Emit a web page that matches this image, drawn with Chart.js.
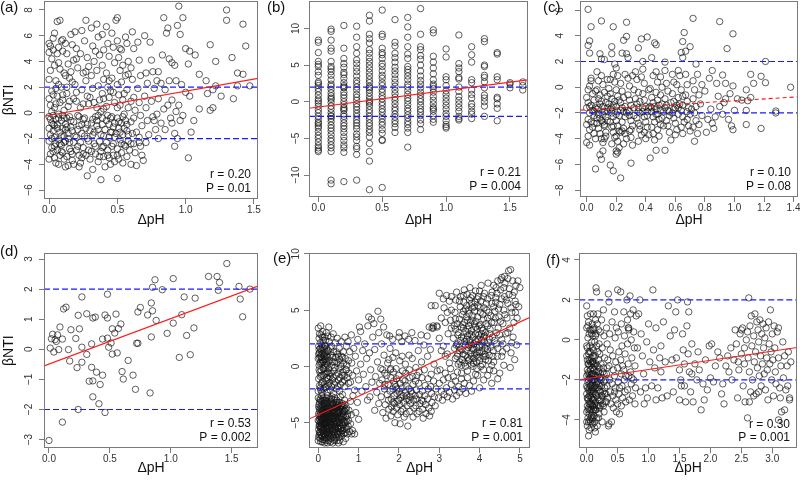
<!DOCTYPE html>
<html><head><meta charset="utf-8">
<script src="https://cdn.jsdelivr.net/npm/chart.js@4"></script>
<style>
html,body{margin:0;padding:0;background:#fff;}
#wrap{position:relative;width:800px;height:482px;overflow:hidden;}
canvas{position:absolute;}
</style></head><body><div id="wrap">
<canvas id="ca" width="267" height="240" style="left:0;top:0"></canvas>
<canvas id="cb" width="266" height="240" style="left:267px;top:0"></canvas>
<canvas id="cc" width="267" height="240" style="left:533px;top:0"></canvas>
<canvas id="cd" width="267" height="242" style="left:0;top:240px"></canvas>
<canvas id="ce" width="266" height="242" style="left:267px;top:240px"></canvas>
<canvas id="cf" width="267" height="242" style="left:533px;top:240px"></canvas>
</div>
<script>
// ---------------- DATA ----------------
const panelLabels = ['(a)','(b)','(c)','(d)','(e)','(f)'];
const rStats = ['0.20','0.21','0.10','0.53','0.81','0.30'];
const pStats = ['0.01','0.004','0.08','0.002','0.001','0.001'];
const fitSlope = [1.88, 2.26, 0.70, 1.51, 1.65, 0.46];
const fitIntercept = [-0.19, -0.73, -1.75, -0.49, -4.30, -1.94];
const nullBounds = [-2, 2];
const xTitle = 'ΔpH';
const yTitle = 'βNTI';

const ticksAX=[0,0.5,1,1.5], ticksAY=[-6,-4,-2,0,2,4,6,8];
const ticksBX=[0,0.5,1,1.5], ticksBY=[-10,-5,0,5,10];
const ticksCX=[0,0.2,0.4,0.6,0.8,1,1.2,1.4], ticksCY=[-8,-6,-4,-2,0,2,4,6];
const ticksDX=[0,0.5,1,1.5], ticksDY=[-3,-2,-1,0,1,2,3];
const ticksEX=[0,1,2,3,4,5], ticksEY=[-5,0,5,10];
const ticksFX=[0,0.5,1,1.5,2,2.5,3], ticksFY=[-4,-2,0,2,4];

const ptsA = [
[.0,5.4],[.01,5.2],[.0,4.7],[.02,4.2],[.01,3.3],[.0,2.6],[.02,1.7],[.0,1.1],[.01,.6],[.0,-.3],[.02,-.8],[.0,-1.2],[.01,-1.7],[.0,-2.2],[.02,-2.7],[.01,-3.2],[.0,-3.6],[.03,5.8],[.04,6.2],[.03,4.9],[.04,3.7],[.05,2.5],[.03,1.4],[.04,.4],[.05,-.5],[.03,-1.4],[.04,-1.9],[.05,-2.4],[.03,-3.0],[.04,-3.5],[.05,-3.9],[.02,.1],[.04,-1.0],[.05,1.9],[.03,-.2],
[.06,7.1],[.07,5.1],[.06,4.6],[.08,3.4],[.07,2.2],[.06,1.3],[.08,.8],[.07,-.1],[.06,-.9],[.08,-1.5],[.07,-2.1],[.06,-2.9],[.08,-3.3],[.07,-4.0],[.09,5.6],[.1,4.8],[.11,3.1],[.09,2.0],[.1,1.0],[.11,.2],[.09,-.6],[.1,-1.2],[.11,-1.8],[.09,-2.5],[.1,-3.1],[.11,-3.6],[.12,-4.2],[.12,5.4],[.12,2.9],[.12,-.9],[.12,-2.2],[.08,7.2],[.1,5.7],[.11,-.4],[.09,-1.8],
[.13,4.6],[.14,3.8],[.15,2.7],[.13,1.5],[.14,.5],[.15,-.3],[.13,-1.1],[.14,-2.0],[.15,-2.8],[.13,-3.4],[.14,-4.1],[.16,6.1],[.17,5.3],[.18,4.1],[.16,3.2],[.17,2.4],[.18,1.1],[.16,-.6],[.17,-1.4],[.18,-2.3],[.16,-3.0],[.17,-3.7],[.18,-4.0],[.19,6.3],[.2,5.0],[.21,3.5],[.19,2.2],[.2,.9],[.21,-.2],[.22,-1.0],[.2,-1.9],[.21,-2.6],[.22,-3.3],[.23,-3.9],[.24,6.4],[.23,4.6],[.25,3.1],[.24,1.8],[.23,.4],[.25,-.5],[.24,-1.6],[.25,-2.7],[.24,-3.5],[.22,-4.2],
[.27,7.2],[.26,5.6],[.28,4.3],[.29,3.6],[.27,2.5],[.28,1.3],[.29,.7],[.26,-.4],[.27,-1.2],[.28,-2.0],[.29,-2.9],[.3,-3.6],[.28,-4.9],[.31,6.6],[.32,5.2],[.33,4.0],[.31,2.9],[.32,1.9],[.33,.8],[.34,-.3],[.31,-.8],[.32,-1.7],[.33,-2.4],[.34,-3.2],[.32,-4.4],[.35,6.9],[.36,5.9],[.37,4.5],[.35,3.3],[.36,2.1],[.37,1.0],[.38,.1],[.35,-.6],[.36,-1.3],[.37,-2.2],[.38,-3.0],[.36,-3.8],[.38,-5.2],[.39,6.1],[.4,4.9],[.39,3.7],[.4,2.6],[.39,1.5],[.4,.3],[.39,-.4],[.4,-1.8],[.39,-2.7],[.4,-3.4],[.41,-4.2],
[.42,6.7],[.43,5.4],[.44,4.4],[.42,3.1],[.43,2.0],[.44,1.2],[.42,.5],[.43,-.2],[.44,-.9],[.45,-1.5],[.42,-2.3],[.43,-2.9],[.44,-3.5],[.45,-4.0],[.46,6.2],[.47,5.1],[.48,3.9],[.46,2.7],[.47,1.6],[.48,.8],[.46,-.3],[.47,-1.1],[.48,-1.9],[.46,-2.6],[.47,-3.3],[.48,-3.8],[.5,7.4],[.49,7.2],[.5,5.6],[.51,4.3],[.52,3.3],[.5,2.2],[.51,1.4],[.52,.6],[.5,-.4],[.51,-1.2],[.52,-2.1],[.5,-2.8],[.51,-3.6],[.5,-5.1],[.53,4.9],[.54,3.7],[.53,2.4],[.54,1.0],[.55,-.1],[.53,-.8],[.54,-1.7],[.55,-2.5],[.53,-3.1],[.54,-3.9],
[.56,5.9],[.57,5.4],[.58,4.0],[.56,2.9],[.57,1.8],[.58,.4],[.56,-.6],[.57,-1.4],[.58,-2.2],[.59,-2.9],[.57,-3.4],[.6,-4.0],[.61,6.3],[.62,5.0],[.6,3.5],[.61,2.6],[.62,1.2],[.63,.2],[.6,-.7],[.61,-1.6],[.62,-2.4],[.63,-3.1],[.64,-4.1],[.65,5.5],[.66,4.1],[.67,2.9],[.65,1.9],[.66,.8],[.67,-.2],[.68,-1.0],[.66,-1.9],[.67,-2.6],[.68,-3.3],[.69,-3.7],[.7,6.0],[.71,3.1],[.72,2.3],[.7,1.3],[.71,.4],[.72,-.6],[.73,-1.7],[.71,-2.3],[.74,5.5],[.75,4.1],[.76,3.2],[.77,1.9],[.75,.9],[.76,-.3],[.77,-.6],[.78,-1.3],[.8,-2.0],[.79,2.5],[.8,1.1],[.79,-.1],
[.95,8.3],[1.3,8.0],[1.3,7.2],[1.42,6.9],[.84,7.4],[.98,7.4],[.94,6.8],[.87,6.6],[.86,6.2],[.96,6.1],[1.44,5.2],[1.18,5.3],[1.0,5.0],[1.03,4.8],[1.07,4.5],[1.34,4.3],[1.22,4.0],[.83,4.5],[.88,4.2],[.9,3.9],[1.02,3.8],[.92,3.7],[1.38,3.1],[1.42,3.0],[1.1,3.0],[.8,3.2],[1.38,2.1],[1.47,2.1],[1.22,2.1],[1.15,2.5],[1.2,1.8],[1.26,1.3],[1.35,1.1],[1.18,.2],[1.2,.4],[1.16,1.5],[1.0,1.6],[1.03,1.3],[.93,2.5],[.88,2.5],[.97,2.2],[.85,1.8],[.82,2.3],[.9,1.0],[.95,.6],[.93,.1],[.84,.3],[.89,-.4],[.87,.6],[1.06,-.6],[.96,-.6],[1.04,-1.5],[.82,-.8],[.85,-1.3],[.92,-1.6],[.94,-2.0],[.92,-2.6],[1.02,-3.5],[.98,-.2],[.9,-.8],[1.1,.3],
[.01,-.5],[.03,-.9],[.02,-2.0],[.04,-2.6],[.06,-1.2],[.07,-.4],[.08,-2.4],[.09,-3.0],[.1,-.2],[.11,-2.3],[.12,-1.3],[.13,-.4],[.14,-1.6],[.15,-2.3],[.16,-1.1],[.17,-3.2],[.18,-.7],[.19,-1.8],[.2,-2.9],[.21,-1.3],[.22,-.3],[.23,-2.3],[.24,-.9],[.25,-3.2],[.26,-1.8],[.27,-3.3],[.28,-.9],[.29,-2.2],[.3,-1.4],[.31,-3.0],[.32,-.5],[.33,-1.5],[.34,-2.6],[.35,-1.0],[.36,-.2],[.37,-3.4],[.38,-1.7],[.39,-.9],[.4,-2.6],[.41,-1.3],[.42,-.6],[.43,-3.3],[.44,-1.9],[.45,-.4],[.46,-1.5],[.47,-2.4],[.48,-.8],[.49,-1.6],[.5,-3.3],[.51,-.7],[.52,-1.5],[.53,-2.4],[.54,-.3],[.55,-1.2],[.56,-2.6],[.57,-.9],[.58,-1.7],[.6,-2.4],[.62,-.4],[.64,-1.5],[.66,-2.3],[.05,.7],[.1,1.4],[.15,.9],[.2,1.6],[.25,.7],[.3,1.2],[.35,.4],[.4,1.1],[.45,1.7],[.5,.4],[.55,1.5],[.6,.9],[.13,2.0],[.27,3.2],[.34,4.8],[.44,2.5],[.52,5.0],[.58,3.0],[.07,3.9],[.2,4.2]
];

const colsBX = [0,0.1,0.2,0.3,0.4,0.5,0.6,0.7,0.8,0.9,1.0,1.1,1.2,1.3,1.4,1.5,1.6];
const colsBY = [
[8.4,8.1,6.7,5.5,5.1,4.8,4.1,3.6,2.7,2.5,2.2,1.4,.9,.4,-.2,-.6,-1.1,-1.5,-2.0,-2.4,-2.8,-3.3,-3.6,-4.1,-4.6,-5.0,-5.5,-6.0,-6.3,-6.6,-6.8,.1,-3.0,1.8],
[9.9,9.6,8.4,7.3,6.9,5.5,4.8,4.5,4.1,3.6,3.0,2.4,2.1,1.7,1.2,.8,.3,-.1,-.6,-1.0,-1.5,-1.9,-2.3,-2.7,-3.2,-3.6,-4.0,-4.5,-5.0,-5.4,-5.9,-6.3,-6.8,-10.7,-11.2,.5,-2.0],
[10.4,7.3,5.9,5.2,4.7,4.0,3.7,3.2,2.6,2.2,1.9,1.3,.9,.5,.0,-.4,-.8,-1.2,-1.7,-2.0,-2.4,-2.9,-3.3,-3.7,-4.2,-4.8,-5.3,-5.9,-6.3,-6.9,-10.9,-1.0,2.0],
[10.3,8.8,7.5,6.6,5.7,5.2,4.6,4.1,3.5,2.9,2.5,2.0,1.6,1.0,.6,.2,-.3,-.7,-1.1,-1.6,-2.0,-2.5,-2.9,-3.3,-3.7,-4.4,-4.8,-5.3,-6.1,-6.4,-7.2,-10.7],
[11.8,11.0,9.2,8.6,8.0,7.1,6.6,6.0,5.5,5.0,4.5,4.0,3.5,3.0,2.6,2.1,1.6,1.2,.7,.3,-.2,-.6,-1.1,-1.5,-2.0,-2.4,-2.9,-3.3,-3.8,-4.2,-4.8,-5.7,-6.8,-8.1,-12.0,.0,1.9],
[12.5,9.2,8.9,7.3,6.7,6.4,5.9,5.2,4.8,4.2,3.6,3.2,2.6,2.2,1.7,1.3,.8,.4,-.1,-.5,-1.0,-1.4,-1.9,-2.3,-2.8,-3.2,-3.8,-4.3,-5.2,-5.3,-11.7],
[11.2,8.1,7.6,6.6,6.0,5.4,4.7,4.2,3.7,3.1,2.6,2.1,1.6,1.1,.6,.2,-.3,-.8,-1.2,-1.7,-2.1,-2.6,-3.0,-3.5,-4.2],
[11.5,10.2,8.8,7.5,6.5,5.9,4.8,4.4,4.0,3.5,3.0,2.4,2.0,1.5,1.0,.5,.1,-.4,-.9,-1.3,-1.8,-2.2,-2.7,-3.1,-3.6,-4.2,-6.2],
[12.7,9.2,7.5,7.1,6.3,5.8,5.0,4.2,3.5,2.9,2.4,1.9,1.3,.9,.4,.0,-.5,-1.0,-1.4,-1.9,-2.5,-3.0,-3.8],
[9.8,9.4,6.2,5.4,4.6,3.8,3.0,2.4,1.8,1.3,.7,.2,-.3,-.8,-1.3,-1.9,-2.4,-2.8,2.1,-1.0],
[7.2,6.1,3.4,3.0,2.2,1.5,1.0,.5,.0,-.5,-1.0,-1.6,-2.0,-2.6,-3.1,-3.4,-3.6],
[9.1,5.2,4.6,4.1,3.3,3.1,2.0,1.4,.7,.2,-.3,-.8,-1.3,-2.0,-2.3,-2.5],
[7.5,6.4,5.4,3.0,2.6,1.6,1.0,.5,-.3,-.7,-1.3,-1.7,-2.3],
[8.6,8.2,5.0,4.8,3.6,3.3,2.7,1.9,.9,.5,.0,-.6,-2.0],
[6.7,6.5,3.4,3.0,.6,.4,-.3,-.9,-2.6],
[2.6,2.4,1.9],
[2.7,2.2,1.6]
];

const ptsC = [
[.01,6.05],[.1,5.15],[.03,4.7],[.18,4.7],[.27,5.05],[.72,5.35],[.9,5.1],[.99,4.15],[.66,4.25],[.27,3.95],[.41,3.9],[.25,3.65],[.37,3.75],[.02,3.6],[.01,3.25],[.17,3.15],[.46,3.45],[.47,3.3],[.65,3.55],[.95,3.0],[.7,3.15],[.35,3.05],[.02,2.65],[.09,2.6],[.17,2.6],[.24,2.65],[.27,2.6],[.64,2.7],[.67,2.8],[.1,2.2],[.12,2.15],[.28,2.3],[.44,2.3],[.65,2.3],[.38,2.0],[.53,1.95],[1.21,2.0],[.74,1.8],
[.23,-7.05],[.06,-6.35],[.18,-6.5],[.16,-6.05],[.3,-5.9],[.43,-5.5],[.09,-5.25],[.2,-5.2],[.11,-4.95],[.2,-4.95],[.21,-5.05],[.47,-4.9],[.53,-4.9],[.1,-5.6],
[1.38,0.0],[1.21,.35],[1.11,1.0],[1.13,.3],[1.18,.85],[1.08,-.2],[1.09,-1.05],[1.11,-.8],[1.05,-1.0],[1.0,-1.8],[1.08,-1.8],[1.28,-1.85],[1.28,-2.0],[1.18,-3.2],[1.08,-2.9],[.98,-3.0],[.99,-3.3],[.96,-2.5],[.92,-2.1],[.92,.95],[.88,.3],[.85,1.3],[.94,.3],[.99,.1],[.97,-.5],[.94,-.9],[.9,-1.5],[.84,-1.7],[.87,-2.3],[.82,-2.5],[.86,-3.2],[.89,-.7],[.83,.7],[.8,-.3],[.81,-3.5],[.85,-2.8],[.93,-1.2],[1.02,-.9],
[.0,-.8],[.01,-1.2],[.0,-1.6],[.02,-2.0],[.01,-2.5],[.0,-2.9],[.02,-3.3],[.01,-3.8],[.0,-4.3],[.02,-4.5],[.01,-.2],[.03,.5],[.04,-.5],[.05,-1.0],[.03,-1.4],[.04,-1.8],[.05,-2.2],[.03,-2.7],[.04,-3.1],[.05,-3.6],[.06,-4.0],[.03,.7],[.06,-.3],[.06,-1.6],[.05,-2.8],[.02,.1],
[.07,1.2],[.08,.5],[.07,-.2],[.08,-.9],[.09,-1.3],[.07,-1.7],[.08,-2.1],[.09,-2.4],[.07,-2.8],[.08,-3.2],[.09,-3.6],[.1,-4.0],[.11,-4.3],[.1,.9],[.11,.2],[.12,-.4],[.1,-1.1],[.11,-1.5],[.12,-1.9],[.13,-2.3],[.11,-2.7],[.12,-3.0],[.13,-3.5],[.12,-4.0],[.14,.6],[.14,-.7],[.13,-1.2],[.14,-1.6],[.14,-2.6],[.13,-3.8],[.09,-.6],[.1,-2.6],
[.15,-.1],[.16,-.5],[.17,-.9],[.15,-1.3],[.16,-1.7],[.17,-2.0],[.18,-2.3],[.16,-2.7],[.17,-3.1],[.18,-3.5],[.19,-3.9],[.17,-4.4],[.19,1.8],[.2,1.5],[.18,1.0],[.19,.4],[.2,-.2],[.21,-.7],[.19,-1.1],[.2,-1.5],[.21,-1.9],[.22,-2.2],[.2,-2.6],[.21,-3.0],[.22,-3.4],[.2,-3.8],[.21,-4.2],[.22,-4.7],[.16,.6],[.18,-1.4],[.21,.9],[.22,-1.0],
[.23,.3],[.24,-.3],[.25,-.8],[.23,-1.2],[.24,-1.6],[.25,-1.9],[.26,-2.3],[.24,-2.7],[.25,-3.2],[.26,-3.6],[.27,-4.0],[.25,-4.4],[.28,.7],[.29,.1],[.28,-.6],[.29,-1.0],[.3,-1.4],[.28,-1.8],[.29,-2.2],[.3,-2.6],[.31,-3.0],[.29,-3.4],[.3,-3.9],[.31,-4.5],[.32,-.2],[.32,-1.6],[.31,.9],[.27,-2.0],[.23,-3.5],[.26,1.0],
[.33,1.2],[.34,.6],[.35,-.4],[.33,-.9],[.34,-1.3],[.35,-1.6],[.36,-2.0],[.34,-2.4],[.35,-2.8],[.36,-3.3],[.37,-3.7],[.35,-4.2],[.38,1.4],[.39,.3],[.38,-.5],[.39,-1.0],[.4,-1.5],[.38,-1.9],[.39,-2.3],[.4,-2.7],[.41,-3.1],[.39,-3.5],[.4,-4.0],[.42,-.2],[.42,-1.6],[.41,-2.2],[.42,-3.7],[.36,-1.1],[.37,.8],
[.43,-.1],[.44,-.8],[.45,-1.2],[.43,-1.5],[.44,-1.9],[.45,-2.3],[.46,-2.7],[.44,-3.1],[.45,-3.6],[.46,-4.1],[.47,1.2],[.48,.4],[.47,-.4],[.48,-1.0],[.49,-1.4],[.47,-1.7],[.48,-2.1],[.49,-2.5],[.5,-2.9],[.48,-3.3],[.49,-3.8],[.5,.8],[.51,.0],[.5,-.6],[.51,-1.3],[.52,-1.9],[.51,-2.4],[.52,-3.0],[.45,.9],[.46,-1.5],
[.53,1.3],[.54,.3],[.55,-.3],[.53,-.9],[.54,-1.4],[.55,-1.8],[.56,-2.2],[.54,-2.6],[.55,-3.0],[.56,-3.5],[.57,-4.1],[.58,1.0],[.59,.4],[.58,-.5],[.59,-1.1],[.6,-1.6],[.58,-2.0],[.59,-2.4],[.6,-2.8],[.61,-3.3],[.62,1.3],[.61,.2],[.62,-.8],[.61,-1.4],[.62,-2.1],[.6,-3.7],[.57,-1.2],
[.63,.9],[.64,-.2],[.65,-.7],[.63,-1.3],[.64,-1.8],[.65,-2.3],[.66,-2.7],[.64,-3.1],[.65,-3.6],[.67,1.0],[.68,.2],[.67,-.6],[.68,-1.1],[.69,-1.6],[.7,-2.1],[.68,-2.5],[.69,-3.0],[.7,-3.4],[.72,.5],[.73,-.2],[.72,-.9],[.74,-1.5],[.73,-2.0],[.74,-2.6],[.72,-3.1],[.73,-4.2],[.75,-3.6],[.76,-.6],[.77,-1.3],[.78,-2.2],[.76,-2.9],[.78,.2],[.75,1.0],
[.02,-1.5],[.05,-1.9],[.08,-1.6],[.11,-2.1],[.14,-1.9],[.17,-1.6],[.2,-2.1],[.23,-1.8],[.26,-1.5],[.29,-1.9],[.32,-2.2],[.35,-1.9],[.38,-1.6],[.41,-1.9],[.44,-1.6],[.47,-2.1],[.5,-1.8],[.53,-1.6],[.56,-1.9],[.59,-1.7],[.62,-1.6],[.65,-1.4],[.68,-1.9],[.71,-1.7],[.18,-3.0],[.24,-3.4],[.3,-3.3],[.12,-2.9],[.07,-2.4],[.36,-3.0]
];

const ptsD = [
[0.0,-3.03],[.01,.04],[.02,.35],[.03,.5],[.04,-.09],[.05,.32],[.06,.26],[.07,.48],[.08,-.01],[.09,.74],[.11,.34],[.11,-2.42],[.12,1.34],[.14,1.4],[.16,-.01],[.17,-.39],[.18,.65],[.22,.36],[.23,-.61],[.24,-2.0],[.24,1.13],[.25,.68],[.27,1.74],[.27,.07],[.27,-.43],[.31,-.17],[.31,1.18],[.33,-1.06],[.35,.18],[.35,-.6],[.36,1.04],[.36,-1.05],[.36,-1.58],[.38,1.07],[.39,-.76],[.41,-1.81],[.42,-1.17],[.44,.34],[.44,-.86],[.46,-2.1],[.46,1.14],[.48,1.04],[.48,1.83],[.48,.37],[.49,.07],[.51,.21],[.52,-.16],[.52,.68],[.54,.54],[.55,1.17],[.56,-.12],[.57,.69],[.59,.84],[.6,-.74],[.61,-.99],[.65,-.37],[.69,-.86],[.71,-1.33],[.72,.2],[.73,.2],[.73,1.24],[.75,1.39],[.81,1.14],[.83,-1.45],[.84,1.54],[.85,2.06],[.85,1.28],[.84,.41],[.87,2.31],[.88,.96],[.93,1.98],[.97,.53],[1.02,.87],[1.02,2.35],[1.07,-.27],[1.09,1.15],[1.11,1.74],[1.13,.46],[1.16,-.18],[1.19,.71],[1.2,1.7],[1.31,2.42],[1.38,2.42],[1.39,1.96],[1.4,2.22],[1.46,2.85],[1.56,2.09],[1.57,1.67],[1.59,1.08],[1.65,2.0]
];

const ptsE = [
[.0,-6.6],[.02,-6.1],[.01,-5.6],[.03,-5.2],[.0,-4.8],[.02,-4.4],[.04,-4.0],[.01,-3.6],[.03,-3.2],[.0,-2.8],[.05,-6.4],[.06,-5.9],[.07,-5.4],[.05,-5.0],[.08,-4.6],[.06,-4.2],[.07,-3.8],[.09,-3.4],[.05,-3.0],[.08,-2.6],[.1,-6.7],[.09,-6.2],[.1,-5.7],[.08,-5.1],[.1,-4.7],[.09,-4.3],[.1,-3.9],[.04,-5.8],[.02,-4.9],[.06,-4.5],
[.12,-6.5],[.13,-6.0],[.11,-5.5],[.14,-5.2],[.12,-4.8],[.15,-4.4],[.13,-4.0],[.11,-3.6],[.14,-3.2],[.12,-2.8],[.16,-6.8],[.17,-6.3],[.15,-5.8],[.18,-5.4],[.16,-5.0],[.19,-4.6],[.17,-4.2],[.18,-3.8],[.16,-3.4],[.19,-3.0],[.2,-6.4],[.21,-5.9],[.22,-5.5],[.2,-5.1],[.23,-4.7],[.21,-4.3],[.24,-3.9],[.22,-3.5],[.2,-3.1],[.23,-2.6],[.25,-6.1],[.24,-5.6],[.25,-4.9],[.24,-4.5],[.25,-4.1],[.18,-4.9],[.14,-4.6],[.22,-4.1],
[.26,-6.6],[.27,-6.2],[.28,-5.7],[.26,-5.3],[.29,-4.9],[.27,-4.5],[.3,-4.1],[.28,-3.7],[.26,-3.3],[.29,-2.9],[.31,-6.4],[.32,-6.0],[.33,-5.5],[.31,-5.1],[.34,-4.7],[.32,-4.3],[.35,-3.9],[.33,-3.5],[.31,-3.1],[.34,-2.7],[.36,-6.8],[.37,-6.3],[.38,-5.8],[.36,-5.4],[.39,-5.0],[.37,-4.6],[.4,-4.2],[.38,-3.8],[.36,-3.4],[.39,-3.0],[.41,-6.5],[.42,-6.1],[.43,-5.6],[.41,-5.2],[.44,-4.8],[.42,-4.4],[.45,-4.0],[.43,-3.6],[.41,-2.8],[.44,-3.2],[.3,-5.0],[.35,-4.4],
[.46,-6.6],[.47,-6.0],[.48,-5.5],[.46,-5.1],[.49,-4.7],[.47,-4.3],[.5,-3.9],[.48,-3.5],[.46,-3.0],[.51,-6.3],[.52,-5.8],[.53,-5.3],[.51,-4.9],[.54,-4.5],[.52,-4.1],[.55,-3.6],[.53,-3.2],[.56,-6.0],[.57,-5.5],[.58,-5.0],[.56,-4.6],[.59,-4.2],[.57,-3.8],[.6,-3.3],[.61,-5.7],[.62,-5.2],[.63,-4.8],[.61,-4.4],[.64,-3.9],[.62,-3.5],[.66,-5.9],[.67,-5.0],[.68,-4.5],[.66,-4.0],[.7,-3.7],[.69,-5.4],[.72,-6.0],[.75,-4.8],[.78,-5.8],[.73,-4.2],[.55,-2.7],[.6,-2.5],[.65,-3.0],
[.01,-6.3],[.03,-5.9],[.02,-5.3],[.04,-4.7],[.01,-4.2],[.03,-3.8],[.02,-3.4],[.04,-2.9],[.06,-6.7],[.07,-6.1],[.06,-5.5],[.08,-5.3],[.07,-4.9],[.09,-4.0],[.06,-3.6],[.08,-3.1],[.11,-6.2],[.12,-5.7],[.11,-5.0],[.13,-4.5],[.12,-4.2],[.13,-3.3],[.11,-3.0],[.15,-6.5],[.16,-6.1],[.14,-5.6],[.17,-5.1],[.15,-4.7],[.16,-4.1],[.14,-3.8],[.17,-3.6],[.15,-3.0],[.19,-6.6],[.18,-6.0],[.2,-5.6],[.19,-5.2],[.21,-4.9],[.18,-4.4],[.2,-4.0],[.22,-3.7],[.19,-3.3],[.21,-2.8],[.23,-6.8],[.24,-6.3],[.22,-5.8],[.25,-5.3],[.23,-5.0],[.26,-4.6],[.24,-4.2],[.25,-3.7],[.23,-3.2],[.27,-6.0],[.28,-5.4],[.29,-5.1],[.27,-4.8],[.3,-4.4],[.28,-4.0],[.29,-3.5],[.31,-6.7],[.32,-5.7],[.33,-5.2],[.31,-4.5],[.34,-4.1],[.32,-3.7],[.35,-3.3],[.33,-2.9],[.36,-6.1],[.37,-5.6],[.38,-5.1],[.36,-4.7],[.39,-4.4],[.37,-4.0],[.38,-3.3],[.4,-6.6],[.41,-5.9],[.42,-5.4],[.4,-4.9],[.43,-4.6],[.41,-4.1],[.42,-3.7],[.44,-3.4],[.45,-6.3],[.46,-5.8],[.44,-5.3],[.47,-4.9],[.45,-4.5],[.48,-4.1],[.46,-3.7],[.47,-3.2],[.49,-6.0],[.5,-5.5],[.48,-5.0],[.51,-4.6],[.49,-4.2],[.52,-3.8],[.5,-3.4],[.53,-6.6],[.54,-5.9],[.55,-5.5],[.53,-5.0],[.56,-4.4],[.54,-4.0],[.57,-3.5],[.58,-6.2],[.59,-5.7],[.6,-5.2],[.58,-4.7],[.61,-4.0],[.59,-3.6],[.63,-6.0],[.64,-5.5],[.65,-5.0],[.63,-4.3],[.67,-3.8],[.66,-3.4],[.7,-5.6],[.71,-4.9],[.72,-4.4],[.74,-5.3],[.76,-3.9],[.8,-5.1],[.83,-6.0],[.68,-6.4],[.62,-6.7],[.5,-6.8],[.35,-5.8],[.26,-5.9],[.12,-5.1],[.05,-5.4],[.09,-4.8],
[.0,3.4],[.02,2.5],[.01,1.8],[.03,1.2],[.0,.7],[.02,.1],[.04,-.5],[.01,-1.1],[.03,-1.7],[.0,-2.2],[.06,3.6],[.07,2.8],[.05,2.1],[.08,1.5],[.06,.9],[.09,.3],[.07,-.3],[.05,-.9],[.08,-1.5],[.06,-2.1],[.11,3.1],[.12,2.3],[.1,1.7],[.13,1.0],[.11,.4],[.14,-.2],[.12,-.8],[.1,-1.4],[.13,-2.0],[.15,2.6],[.16,1.9],[.17,1.2],[.15,.6],[.18,-.1],[.16,-.7],[.19,-1.3],[.17,-1.9],[.2,3.0],[.21,1.6],[.22,.9],[.2,.2],[.23,-.5],[.21,-1.0],[.24,-1.7],[.22,-2.3],[.26,3.5],[.27,2.2],[.25,1.4],[.28,.5],[.26,-.2],[.29,-.9],[.27,-1.5],[.3,-2.1],[.32,2.6],[.33,1.8],[.31,1.0],[.34,.1],[.32,-.6],[.35,-1.2],[.33,-1.8],[.37,2.9],[.38,1.3],[.36,.4],[.39,-.4],[.37,-1.0],[.4,-1.6],[.38,-2.4],[.42,2.1],[.43,.8],[.41,-.1],[.44,-.8],[.42,-1.4],[.45,-2.0],[.47,2.5],[.48,1.1],[.46,.3],[.49,-.6],[.5,-1.2],[.48,-1.8],[.52,1.6],[.53,.6],[.51,-.2],[.54,-1.0],[.55,-1.6],[.53,-2.2],[.57,2.2],[.58,.9],[.56,.0],[.59,-.8],[.6,-1.4],[.62,1.3],[.63,.3],[.61,-.5],[.64,-1.2],[.66,2.6],[.67,.7],[.68,-.3],[.66,-1.8],[.7,1.8],[.71,.1],[.72,-1.0],[.74,2.2],[.75,.5],[.76,-.6],[.78,1.3],[.8,-1.4],[.82,2.8],[.83,.3],[.85,-.8],[.88,1.6],[.9,-2.1],[.86,-2.6],[.8,-3.1],
[.01,1.1],[.03,.8],[.02,1.5],[.04,.3],[.05,1.6],[.07,1.1],[.06,.4],[.08,.8],[.09,1.9],[.1,.6],[.11,1.2],[.12,-.2],[.13,.4],[.14,1.6],[.15,.9],[.16,.1],[.17,1.8],[.18,.6],[.19,1.0],[.2,-.6],[.21,.4],[.22,1.3],[.23,.1],[.24,.8],[.25,-1.1],[.05,-1.9],[.09,-2.3],[.15,-1.6],[.2,-1.8],[.27,-.6],[.03,2.9],[.1,2.6],[.18,2.3],[.24,2.7],[.3,1.6],[.35,.8],[.4,.4],[.45,1.3],[.5,.9],[.55,.2],[.6,.8],[.65,-.8],[.7,-.3],[.75,-1.5],[.02,-.3],[.08,-.8],
[.92,.9],[.95,-.4],[.98,2.4],[1.0,-1.2],[1.02,3.5],[1.05,.2],[1.08,-2.2],[1.1,1.4],[1.12,-.7],[1.05,3.1],[.97,-3.2],[1.15,2.0],[1.18,-1.8],[1.2,.7],[1.22,-3.0],[1.25,4.4],[1.23,3.6],[1.27,1.2],[1.3,-.3],[1.28,-2.7],[1.32,4.2],[1.35,2.6],[1.33,-1.4],[.93,-4.1],[.85,-5.7],[.9,-6.0],[1.0,-4.7],[.82,-4.3],
[1.38,3.8],[1.4,1.5],[1.42,-.9],[1.45,-2.3],[1.4,-3.9],[1.48,4.9],[1.5,3.0],[1.47,.4],[1.52,-1.5],[1.5,-3.3],[1.55,4.2],[1.57,2.0],[1.55,-.2],[1.58,-1.2],[1.56,-2.7],[1.6,-4.1],[1.62,3.5],[1.63,1.0],[1.65,-.6],[1.64,-2.0],[1.66,-3.4],[1.68,-4.6],[1.7,2.8],[1.72,.3],[1.7,-.8],[1.73,-1.6],[1.71,-2.5],[1.74,-3.0],[1.75,-3.8],[1.77,2.7],[1.78,1.6],[1.79,-.3],[1.8,-1.0],[1.78,-2.2],[1.81,-2.9],[1.82,-3.6],[1.8,-4.4],[1.84,2.4],[1.85,.8],[1.86,-.5],[1.87,-1.3],[1.85,-2.0],[1.88,-2.6],[1.89,-3.3],[1.86,-4.0],[1.9,-5.0],[1.92,1.2],[1.93,-.2],[1.94,-1.1],[1.92,-1.8],[1.95,-2.4],[1.96,-3.1],[1.94,-3.7],[1.97,-4.3],[2.0,2.6],[2.01,3.0],[2.02,.5],[2.0,-.8],[2.03,-1.5],[2.01,-2.2],[2.04,-2.8],[2.02,-3.4],[2.05,-4.0],[2.03,-5.1],[2.07,2.2],[2.08,.9],[2.09,-.4],[2.1,-1.2],[2.08,-1.9],[2.11,-2.6],[2.12,-3.2],[2.1,-3.8],[2.13,-4.5],[2.15,2.7],[2.16,.2],[2.17,-.6],[2.18,-1.7],[2.16,-2.3],[2.19,-2.9],[2.2,-3.5],[2.18,-4.2],[2.22,-5.3],[2.24,2.4],[2.25,1.0],[2.26,-.3],[2.27,-1.0],[2.25,-2.0],[2.28,-2.7],[2.29,-3.3],[2.27,-4.0],[2.32,3.0],[2.33,.7],[2.34,-.9],[2.35,-1.6],[2.33,-2.4],[2.36,-3.0],[2.37,-3.7],[2.35,-4.5],[2.4,2.3],[2.42,-.1],[2.41,-1.3],[2.43,-2.1],[2.44,-2.9],[2.42,-3.5],[2.45,-4.2],[2.48,1.4],[2.5,-.5],[2.49,-1.5],[2.51,-2.5],[2.52,-3.3],[2.5,-4.0],[2.55,2.8],[2.56,.4],[2.57,-1.0],[2.58,-2.2],[2.56,-3.0],[2.59,-3.8],[2.6,-4.6],[2.62,1.9],[2.63,-.3],[2.65,-1.7],[2.64,-2.6],[2.66,-3.4],[2.67,-4.2],[2.7,2.7],[2.71,.9],[2.72,-1.1],[2.73,-2.0],[2.71,-2.9],[2.74,-3.7],[2.76,-4.4],[2.78,1.5],[2.8,-.7],[2.79,-1.8],[2.81,-2.4],[2.82,-3.2],[2.8,-4.0],[2.85,3.4],[2.87,.2],[2.86,-1.3],[2.88,-2.7],[2.9,-3.5],[2.92,-2.0],[2.94,3.6],[2.95,-.4],[1.6,-.3],[1.75,.6],[1.9,-1.6],[2.05,-2.5],[2.15,-1.3],[2.2,-2.6],[2.3,-2.2],[1.85,-3.2],[1.95,-2.0],[2.0,-3.0],[2.25,-3.0],[2.4,-2.6],[2.6,-3.1],[1.65,-1.6],[1.8,-.2],[2.45,-.8],
[2.98,-2.8],[3.0,-1.5],[3.02,-.3],[3.05,-2.2],[3.08,-3.0],[3.1,-1.2],[3.12,-2.5],[3.15,-.6],[3.18,-1.9],[3.2,-2.7],[3.22,-1.0],[3.25,-2.3],[3.28,-.2],[3.3,-1.6],[3.33,-2.9],[3.35,-.9],[3.38,-2.1],[3.4,-1.3],[3.43,-2.6],[3.45,-.5],[3.48,-1.8],[3.5,-2.3],[3.55,-1.1],[3.58,-2.0],[3.62,-1.5],[3.66,-2.4],[3.7,-1.0],[3.75,-1.7],[3.8,-2.2],[3.85,-1.3],[3.9,-.7],[4.0,-1.9],[4.1,-1.2],[4.2,-.8],[4.3,-1.5],[4.45,-1.1],[4.35,-.4],
[2.9,5.4],[2.95,3.5],[3.0,6.5],[3.05,4.3],[3.1,6.0],[3.12,5.2],[3.15,3.9],[3.18,6.3],[3.2,4.8],[3.22,2.9],[3.25,5.8],[3.28,4.1],[3.3,6.2],[3.3,3.4],[2.85,3.6],[3.0,2.5],[3.1,1.8],[3.2,1.1],[3.25,.3],[3.15,.9],[3.05,1.4],[2.8,5.4],[2.75,3.5],[2.82,3.4],
[3.35,2.5],[3.38,1.6],[3.4,.7],[3.37,3.6],[3.39,4.8],[3.41,5.9],[3.43,6.6],[3.45,2.0],[3.46,1.1],[3.47,.2],[3.48,3.0],[3.5,4.2],[3.52,5.3],[3.53,6.2],[3.55,2.6],[3.56,1.5],[3.57,.6],[3.58,3.7],[3.6,4.9],[3.61,5.7],[3.62,6.8],[3.63,2.2],[3.64,1.0],[3.65,.0],[3.66,3.1],[3.67,4.4],[3.68,5.4],[3.69,6.4],[3.7,2.7],[3.71,1.7],[3.72,.5],[3.73,3.6],[3.74,4.7],[3.75,5.9],[3.76,7.0],[3.77,2.1],[3.78,1.2],[3.79,.2],[3.8,3.2],[3.81,4.1],[3.82,5.2],[3.83,6.3],[3.84,2.6],[3.85,1.5],[3.86,.7],[3.87,3.8],[3.88,4.9],[3.89,5.7],[3.9,6.7],[3.91,2.2],[3.92,1.0],[3.93,-.2],[3.94,3.3],[3.95,4.4],[3.96,5.4],[3.97,6.2],[3.98,2.8],[3.99,1.7],[4.0,.5],[4.01,3.7],[4.02,4.8],[4.03,5.8],[4.04,7.2],[4.05,2.3],[4.06,1.3],[4.07,.2],[4.08,3.2],[4.1,4.2],[4.11,5.2],[4.12,6.5],[4.13,2.7],[4.14,1.6],[4.15,.6],[4.16,3.8],[4.18,5.0],[4.2,6.0],[4.21,7.4],[4.22,2.1],[4.24,1.0],[4.25,-.3],[4.26,3.3],[4.28,4.5],[4.3,5.6],[4.31,6.6],[4.32,2.6],[4.34,1.4],[4.35,.4],[4.36,3.9],[4.38,4.9],[4.4,6.1],[4.41,7.0],[4.42,2.0],[4.44,.9],[4.46,3.4],[4.48,4.4],[4.5,5.5],[4.52,6.8],[4.53,7.7],[4.55,2.4],[4.57,1.3],[4.58,3.8],[4.6,5.0],[4.62,6.2],[4.63,7.4],[4.65,2.9],[4.67,1.6],[4.68,4.3],[4.7,5.6],[4.72,8.5],[4.74,6.9],[4.75,3.4],[4.77,8.6],[4.78,1.2],[4.8,4.8],[4.82,6.3],[4.85,3.9],[4.88,5.8],[4.9,7.2],[4.93,4.3],[4.95,7.6],[5.0,7.0],[4.97,5.3],[4.92,1.9],[4.87,.6],[4.83,2.6],[4.76,-.1],[4.6,.1],[4.5,-.6],[4.55,7.9],[4.45,7.6],[4.35,7.2],[4.62,8.0],[3.45,3.8],[3.55,.1],[3.65,1.9],[3.75,2.9],[3.85,.3],[3.95,1.3],[4.05,2.9],[4.15,.9],[4.25,2.4],[3.6,3.4],[3.7,4.1],[3.8,1.9],[3.9,3.5],[4.0,1.9],[4.1,2.6],[4.2,1.5],[3.5,1.4],[3.4,3.3],[4.89,4.8],
[3.42,1.9],[3.44,.9],[3.46,2.8],[3.49,1.7],[3.51,.4],[3.53,2.3],[3.54,3.5],[3.57,4.6],[3.59,1.1],[3.6,2.5],[3.62,.3],[3.63,3.9],[3.65,5.1],[3.67,1.4],[3.68,2.4],[3.7,.8],[3.71,3.3],[3.72,5.0],[3.74,1.9],[3.75,.6],[3.76,2.3],[3.77,3.9],[3.78,6.1],[3.8,.9],[3.81,2.8],[3.82,1.6],[3.83,4.5],[3.84,.0],[3.86,2.0],[3.87,5.3],[3.88,1.1],[3.9,2.9],[3.91,4.0],[3.92,.4],[3.93,1.7],[3.94,6.0],[3.96,2.4],[3.97,.8],[3.98,3.6],[4.0,1.2],[4.01,5.2],[4.02,2.6],[4.03,.0],[4.05,3.4],[4.06,1.9],[4.08,4.6],[4.09,.9],[4.1,6.2],[4.12,2.2],[4.13,1.1],[4.15,3.0],[4.17,5.6],[4.18,1.8],[4.2,3.6],[4.22,.5],[4.23,4.8],[4.25,2.9],[4.27,1.7],[4.29,6.3],[4.3,3.9],[4.33,.9],[4.35,5.3],[4.37,2.3],[4.39,4.3],[4.42,3.0],[4.43,6.5],[4.45,1.6],[4.47,5.1],[4.5,2.8],[4.52,4.0],[4.55,6.0],[4.58,2.0],[4.6,7.0],[4.63,4.6],[4.66,5.9],[4.7,3.0],[4.73,6.4],[4.78,5.2],[4.82,7.6],[4.86,6.6],[4.9,5.5],[4.7,7.8],[4.4,5.7],[4.2,4.3],[4.0,6.7],[3.8,5.6],[3.6,6.3],[3.5,5.8],[3.3,5.0],[3.4,4.2],[3.55,-.6],[3.7,-.4],[3.95,-.8],[4.1,-.3],[4.3,.1],[4.55,.9],[4.8,2.1]
];

const ptsF = [
[.0,1.7],[.01,1.2],[.0,.6],[.02,.1],[.01,-.4],[.0,-.8],[.02,-1.2],[.01,-1.5],[.0,-1.8],[.02,-2.1],[.01,-2.4],[.0,-2.7],[.02,-3.0],[.01,-3.3],[.0,-3.6],[.02,-3.9],[.01,-4.3],[.03,-4.8],[.03,.9],[.04,.3],[.05,-.3],[.03,-.7],[.04,-1.0],[.05,-1.3],[.03,-1.6],[.04,-1.9],[.05,-2.2],[.03,-2.5],[.04,-2.8],[.05,-3.1],[.03,-3.4],[.04,-3.7],[.05,-4.0],[.04,-4.5],[.06,1.3],[.07,.5],[.08,-.1],[.06,-.6],[.07,-.9],[.08,-1.2],[.06,-1.5],[.07,-1.8],[.08,-2.0],[.06,-2.3],[.07,-2.6],[.08,-2.9],[.06,-3.2],[.07,-3.5],[.08,-3.8],[.06,-4.1],[.07,-4.4],[.09,.8],[.1,.2],[.09,-.4],[.1,-.8],[.09,-1.1],[.1,-1.4],[.09,-1.7],[.1,-2.0],[.09,-2.4],[.1,-2.7],[.09,-3.0],[.1,-3.3],[.09,-3.6],[.1,-3.9],[.1,-4.2],[.02,-2.9],[.05,-2.6],[.08,-2.5],[.03,-2.0],[.06,-1.9],
[.11,1.3],[.12,.6],[.13,-.1],[.11,-.5],[.12,-.9],[.13,-1.3],[.11,-1.7],[.12,-2.0],[.13,-2.3],[.11,-2.6],[.12,-2.9],[.13,-3.2],[.11,-3.5],[.12,-3.8],[.13,-4.1],[.14,-4.6],[.15,2.6],[.16,2.4],[.14,1.0],[.15,.3],[.16,-.3],[.14,-.8],[.15,-1.2],[.16,-1.6],[.14,-2.0],[.15,-2.4],[.16,-2.8],[.14,-3.1],[.15,-3.5],[.16,-3.9],[.17,-4.3],[.18,1.3],[.19,.5],[.2,-.2],[.18,-.6],[.19,-1.0],[.2,-1.4],[.18,-1.8],[.19,-2.2],[.2,-2.5],[.18,-2.9],[.19,-3.3],[.2,-3.7],[.21,-.7],[.22,.4],[.23,-1.2],[.21,-1.9],[.22,-2.6],[.23,-3.0],[.21,-3.4],[.24,1.0],[.25,-.4],[.26,-1.6],[.24,-2.3],[.25,-2.8],[.26,-3.2],[.27,1.5],[.28,.2],[.29,-.9],[.27,-1.4],[.28,-2.1],[.29,-2.7],[.3,-3.1],[.28,-3.6],[.25,-4.1],[.12,-1.5],[.17,-2.1],[.22,-1.7],
[.0,-.3],[.01,-1.0],[.02,-1.7],[.0,-2.3],[.01,-2.9],[.02,-3.5],[.0,-4.1],[.03,-1.2],[.04,-2.4],[.05,-3.5],[.04,-.6],[.05,-1.7],[.06,-2.8],[.07,-3.9],[.06,-1.1],[.08,-1.7],[.07,-2.3],[.08,-3.2],[.09,-2.1],[.1,-1.1],[.09,-3.3],[.1,-2.5],[.11,-1.2],[.12,-2.4],[.11,-3.0],[.13,-1.8],[.12,-3.4],[.14,-2.7],[.15,-1.8],[.14,-3.5],[.16,-2.2],[.17,-1.3],[.16,-3.3],[.18,-2.4],[.19,-1.6],[.2,-3.0],[.19,-3.9],[.21,-2.3],[.22,-3.3],[.23,-2.0],[.24,-2.8],[.25,-1.9],[.26,-2.6],[.27,-3.3],[.28,-1.7],[.29,-2.4],[.3,-2.0],[.31,-2.7],[.32,-3.1],[.33,-1.4],[.02,.7],[.05,.5],[.08,.3],[.11,.5],[.14,.2],[.17,.8],[.03,-4.1],[.09,-4.0],[.13,-4.4],[.04,-3.2],
[.32,.6],[.33,-.2],[.34,-1.0],[.32,-1.7],[.33,-2.3],[.34,-2.9],[.35,-4.3],[.36,-4.2],[.35,2.3],[.36,1.9],[.37,.3],[.38,-.5],[.36,-1.3],[.37,-2.0],[.38,-2.6],[.39,-3.2],[.4,-4.1],[.41,.9],[.42,-.8],[.43,-1.5],[.41,-2.2],[.42,-2.8],[.43,-3.4],[.45,1.4],[.46,.1],[.47,-1.1],[.45,-1.8],[.46,-2.4],[.47,-3.0],[.48,-3.6],[.5,2.5],[.51,.4],[.52,-.6],[.5,-1.4],[.51,-2.1],[.52,-2.7],[.5,-3.2],[.53,-3.7],[.55,2.4],[.56,.8],[.57,-.3],[.55,-1.0],[.56,-1.7],[.57,-2.3],[.58,-2.9],[.56,-3.3],[.6,1.4],[.61,.2],[.62,-.7],[.6,-1.5],[.61,-2.0],[.62,-2.6],[.63,-3.1],[.65,2.0],[.66,1.0],[.67,.6],[.68,.6],[.66,-.2],[.67,-1.2],[.68,-1.8],[.66,-2.5],[.69,-3.0],[.7,2.2],[.71,1.3],[.72,.0],[.73,-.9],[.71,-1.6],[.72,-2.2],[.74,-2.8],[.75,1.5],[.76,.4],[.77,-.4],[.78,-1.3],[.76,-2.0],[.79,-2.4],[.8,1.2],[.78,-3.2],[.53,-2.4],[.63,-1.8],[.73,-1.9],[.45,-2.6],[.58,-1.3],[.68,.5],[.48,.6],
[.82,-.4],[.84,1.3],[.86,2.0],[.88,.3],[.9,-.8],[.92,-1.7],[.95,-2.4],[.93,-3.2],[.97,-.1],[.98,-2.9],[1.0,.8],[1.02,-1.1],[1.05,-2.3],[1.07,2.5],[1.08,-.5],[1.1,-1.4],[1.12,.6],[1.15,-2.4],[1.18,-.9],[1.2,-1.6],[1.22,-2.9],[1.24,.9],[1.27,-1.1],[1.3,-2.8],[1.32,1.7],[1.35,.2],[1.38,-1.0],[1.4,-2.6],[1.42,.5],[1.44,1.4],[1.45,-.9],[1.47,2.0],[1.5,-1.5],[1.52,-2.0],[1.53,-2.3],[1.55,.3],[1.56,-.5],[1.58,-2.3],[1.6,-3.1],[1.62,.7],[1.63,1.9],[1.64,-.7],[1.65,1.4],[1.66,-1.6],[1.68,-2.6],[1.7,-.2],[1.72,-3.1],[1.75,-1.2],[1.78,-2.0],[1.8,-.6],[1.82,-1.5],[1.85,-3.5],[1.88,-2.2],[1.9,-3.0],[1.92,-1.0],[1.95,-2.5],[1.98,-.3],[2.0,-1.9],[2.02,-.2],[2.05,-2.1],[2.08,-1.3],[1.12,-3.0],[1.2,-.3],[.87,-2.6],[1.5,-3.0],[1.58,-1.2],[1.7,-1.7],
[2.12,-.6],[2.15,-.9],[2.18,-2.7],[2.2,-2.2],[2.22,-3.2],[2.25,-1.3],[2.28,-.8],[2.3,-1.6],[2.33,-.4],[2.35,-2.0],[2.38,-1.0],[2.4,.5],[2.42,-.2],[2.44,-2.9],[2.46,-1.5],[2.48,.3],[2.5,-.7],[2.52,.6],[2.53,-2.3],[2.55,-1.2],[2.56,-3.1],[2.58,.0],[2.6,.4],[2.61,-.9],[2.62,2.1],[2.63,-1.6],[2.64,.7],[2.65,-2.6],[2.66,1.2],[2.67,-.3],[2.68,-2.0],[2.7,.2],[2.71,-1.1],[2.72,1.3],[2.73,-.6],[2.74,-2.7],[2.75,.9],[2.76,-1.4],[2.77,.5],[2.78,-.1],[2.79,-1.8],[2.8,1.0],[2.81,-.8],[2.82,-2.3],[2.83,.3],[2.84,-1.2],[2.85,.8],[2.86,-.4],[2.87,-1.7],[2.88,.1],[2.89,-2.5],[2.9,.6],[2.91,-.9],[2.92,-1.5],[2.93,-3.0],[2.94,.9],[2.95,-.2],[2.96,-1.2],[2.97,1.5],[2.98,-.6],[2.99,-2.0],[3.0,.3],[3.01,-1.0],[3.02,-2.8],[3.03,.7],[3.04,-.4],[3.05,-1.6],[3.06,-2.2],[3.08,.4],[3.1,-.9],[3.12,-2.4],[3.13,-2.9],[3.14,-1.3],[3.15,-3.6],[3.17,-.1],[3.18,-1.9],[3.2,-.8],[3.22,-2.5],[3.24,-1.3],[3.26,-.6],[3.28,-2.9],[3.3,-1.1],[3.28,-3.0],[3.2,-3.5],[3.25,-2.3],[3.1,-4.0],[2.6,-3.9],[2.63,-3.1],[2.7,-2.8],[2.78,-2.6],[2.5,.5],[2.45,-1.1],[2.55,-.4],[3.1,.6]
];

// ---------------- LAYOUT ----------------
const FONT = '"Liberation Sans", Arial, Helvetica, sans-serif';
const pointsB = [];
colsBX.forEach((x, i) => colsBY[i].forEach(y => pointsB.push([x, y])));

const panels = [
 {id:'ca', pts:ptsA, xT:ticksAX, yT:ticksAY, xDec:1, cw:267, ch:240, L:44, R:258, T:1, B:199, xMin:-0.037, xMax:1.53, yMin:-6.70, yMax:8.70, yLab:29, yTitle:true, xtPad:11.6, lx:0, ly:8, dash:false},
 {id:'cb', pts:pointsB, xT:ticksBX, yT:ticksBY, xDec:1, cw:266, ch:240, L:42, R:261, T:1, B:197, xMin:-0.073, xMax:1.641, yMin:-13.0, yMax:13.74, yLab:29, yTitle:false, xtPad:11.6, lx:0, ly:8, dash:false},
 {id:'cc', pts:ptsC, xT:ticksCX, yT:ticksCY, xDec:1, cw:267, ch:240, L:47, R:265, T:1, B:197, xMin:-0.045, xMax:1.43, yMin:-8.53, yMax:6.70, yLab:27, yTitle:false, xtPad:11.6, lx:10, ly:8, dash:true},
 {id:'cd', pts:ptsD, xT:ticksDX, yT:ticksDY, xDec:1, cw:267, ch:242, L:44, R:258, T:13.3, B:208, xMin:-0.041, xMax:1.716, yMin:-3.28, yMax:3.19, yLab:29.5, yTitle:true, xtPad:5.6, lx:0, ly:12, dash:false},
 {id:'ce', pts:ptsE, xT:ticksEX, yT:ticksEY, xDec:0, cw:266, ch:242, L:42, R:263, T:13.3, B:208, xMin:-0.23, xMax:5.25, yMin:-7.25, yMax:10.05, yLab:29.7, yTitle:false, xtPad:5.6, lx:6, ly:19, dash:false},
 {id:'cf', pts:ptsF, xT:ticksFX, yT:ticksFY, xDec:1, cw:267, ch:242, L:46.3, R:264, T:13.3, B:208.3, xMin:-0.12, xMax:3.40, yMin:-5.42, yMax:4.33, yLab:34.3, yTitle:false, xtPad:5.6, lx:13, ly:21, dash:false}
];

const fmtY = v => (v < 0 ? '\u2212' + Math.abs(v) : String(v));

const annotPlugin = {
  id: 'annot',
  afterDraw(chart) {
    const o = chart.options.plugins.annot;
    const ctx = chart.ctx, a = chart.chartArea;
    ctx.save();
    ctx.strokeStyle = '#7a7a7a'; ctx.lineWidth = 1;
    const l = Math.round(a.left) + 0.5, t = Math.round(a.top) + 0.5;
    const r = Math.round(a.right) - 0.5, b = Math.round(a.bottom) - 0.5;
    ctx.strokeRect(l, t, r - l, b - t);
    ctx.fillStyle = '#111';
    ctx.font = '12px ' + FONT;
    ctx.textAlign = 'right'; ctx.textBaseline = 'middle';
    ctx.fillText('r = ' + o.r, a.right - 7, a.bottom - 24);
    ctx.fillText('P = ' + o.p, a.right - 7, a.bottom - 10.5);
    ctx.font = '15px ' + FONT;
    ctx.textAlign = 'left';
    ctx.fillText(o.label, o.lx, o.ly);
    if (o.yTitle) {
      ctx.save();
      ctx.translate(9.5, (a.top + a.bottom) / 2);
      ctx.rotate(-Math.PI / 2);
      ctx.font = '14px ' + FONT;
      ctx.textAlign = 'center';
      ctx.fillText(yTitle, 0, 0);
      ctx.restore();
    }
    ctx.restore();
  }
};

const measure = document.createElement('canvas').getContext('2d');
measure.font = '10px ' + FONT;

panels.forEach((p, i) => {
  const widest = Math.max(...p.yT.map(v => measure.measureText(fmtY(v)).width));
  const yPad = p.L - p.yLab - 5 - widest / 2;
  const fx = x => fitIntercept[i] + fitSlope[i] * x;
  const datasets = [
    {type:'line', data:[{x:p.xMin, y:fx(p.xMin)}, {x:p.xMax, y:fx(p.xMax)}], borderColor:'#ff1a1a', borderWidth:1.1, borderDash:p.dash ? [4,3] : [], pointRadius:0, fill:false},
    {type:'line', data:[{x:p.xMin, y:nullBounds[1]}, {x:p.xMax, y:nullBounds[1]}], borderColor:'#1a1aff', borderWidth:1.2, borderDash:[6,3], pointRadius:0, fill:false},
    {type:'line', data:[{x:p.xMin, y:nullBounds[0]}, {x:p.xMax, y:nullBounds[0]}], borderColor:'#1a1aff', borderWidth:1.2, borderDash:[6,3], pointRadius:0, fill:false},
    {type:'scatter', data:p.pts.map(d => ({x:d[0], y:d[1]})), pointStyle:'circle', pointRadius:3.2, pointBorderWidth:0.8, pointBorderColor:'rgba(20,20,20,0.85)', pointBackgroundColor:'rgba(0,0,0,0)', showLine:false}
  ];
  new Chart(document.getElementById(p.id), {
    data: {datasets},
    plugins: [annotPlugin],
    options: {
      responsive:false, animation:false, events:[],
      layout:{autoPadding:false, padding:{left:0, top:p.T, right:p.cw - p.R, bottom:0}},
      plugins:{legend:{display:false}, tooltip:{enabled:false},
        annot:{r:rStats[i], p:pStats[i], label:panelLabels[i], lx:p.lx, ly:p.ly, yTitle:p.yTitle}},
      scales:{
        x:{type:'linear', position:'bottom', min:p.xMin, max:p.xMax,
          afterBuildTicks: s => { s.ticks = p.xT.map(v => ({value:v})); },
          afterFit: s => { s.height = p.ch - p.B; s.paddingLeft = 0; s.paddingRight = 0; },
          grid:{display:true, drawOnChartArea:false, drawTicks:true, tickLength:5, color:'#7a7a7a', lineWidth:1},
          border:{display:false},
          ticks:{font:{size:10, family:FONT}, color:'#333', padding:0, minRotation:0, maxRotation:0, autoSkip:false,
            callback: v => v.toFixed(p.xDec)},
          title:{display:true, text:xTitle, font:{size:14, family:FONT}, color:'#111', padding:{top:0, bottom:p.xtPad}}
        },
        y:{type:'linear', position:'left', min:p.yMin, max:p.yMax,
          afterBuildTicks: s => { s.ticks = p.yT.map(v => ({value:v})); },
          afterFit: s => { s.width = p.L; s.paddingTop = 0; s.paddingBottom = 0; },
          grid:{display:true, drawOnChartArea:false, drawTicks:true, tickLength:5, color:'#7a7a7a', lineWidth:1},
          border:{display:false},
          ticks:{font:{size:10, family:FONT}, color:'#333', padding:yPad, minRotation:90, maxRotation:90, crossAlign:'center', autoSkip:false,
            callback: v => fmtY(v)},
          title:{display:false}
        }
      }
    }
  });
});
</script></body></html>
